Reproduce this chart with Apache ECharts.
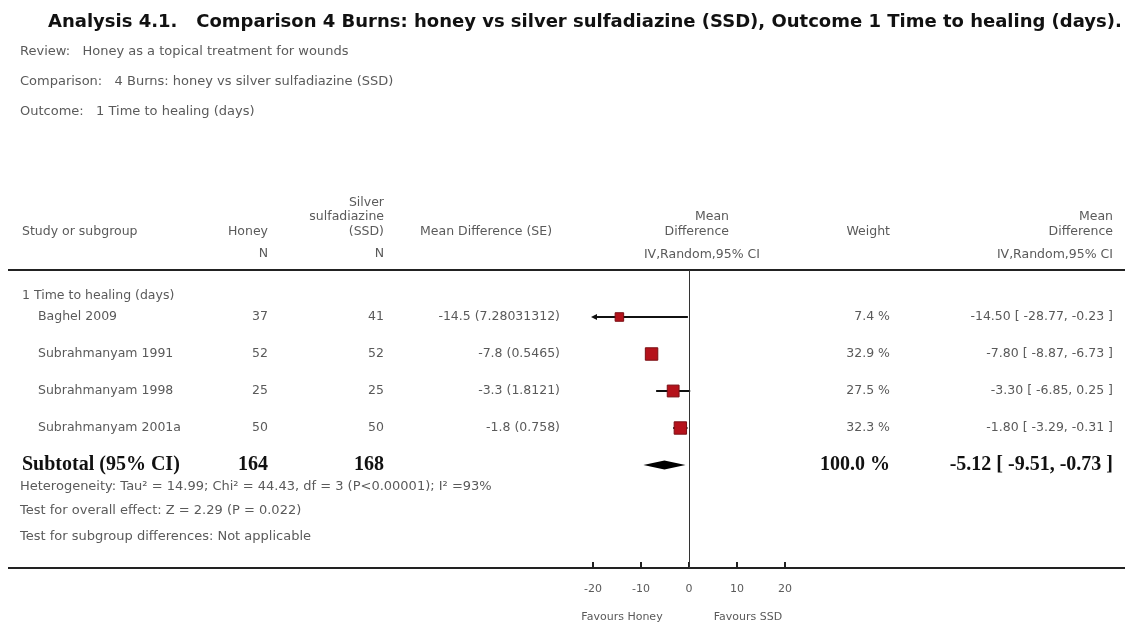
<!DOCTYPE html>
<html>
<head>
<meta charset="utf-8">
<script src="https://cdn.jsdelivr.net/npm/echarts@6/dist/echarts.min.js"></script>
<style>
  html, body { margin: 0; padding: 0; background: #fff; }
  #forest { width: 1125px; height: 623px; }
</style>
</head>
<body>
<div id="forest"></div>
<script>
// 数据
var studies = ['Baghel 2009', 'Subrahmanyam 1991', 'Subrahmanyam 1998', 'Subrahmanyam 2001a'];
var nHoney = [37, 52, 25, 50];
var nSSD = [41, 52, 25, 50];
var mdSE = ['-14.5 (7.28031312)', '-7.8 (0.5465)', '-3.3 (1.8121)', '-1.8 (0.758)'];
var md = [-14.5, -7.8, -3.3, -1.8];
var ciLow = [-28.77, -8.87, -6.85, -3.29];
var ciHigh = [-0.23, -6.73, 0.25, -0.31];
var weights = [7.4, 32.9, 27.5, 32.3];
var totalHoney = 164, totalSSD = 168;
var totalMD = -5.12, totalLow = -9.51, totalHigh = -0.73, totalWeight = 100.0;
var xTicks = [-20, -10, 0, 10, 20];

var font = '"DejaVu Sans"';
var gray = '#5a5a5a';
var fs = 12.5;

function fmt(v) { return v.toFixed(2); }

// 网格位置
var gridTop = 270, gridBottomY = 568, firstRowY = 317, rowGap = 37;
var yMin = -(firstRowY - gridTop) / rowGap;
var yMax = (gridBottomY - firstRowY) / rowGap;

var studyData = [];
for (var i = 0; i < studies.length; i++) {
  studyData.push([md[i], ciLow[i], ciHigh[i], i, weights[i]]);
}
var rowText = [];
for (var i = 0; i < studies.length; i++) {
  rowText.push([0, i, studies[i], String(nHoney[i]), String(nSSD[i]), mdSE[i],
    weights[i].toFixed(1) + ' %', fmt(md[i]) + ' [ ' + fmt(ciLow[i]) + ', ' + fmt(ciHigh[i]) + ' ]', 0]);
}
rowText.push([0, studies.length, 'Subtotal (95% CI)', String(totalHoney), String(totalSSD), '',
  totalWeight.toFixed(1) + ' %', fmt(totalMD) + ' [ ' + fmt(totalLow) + ', ' + fmt(totalHigh) + ' ]', 1]);

var myChart = echarts.init(document.getElementById('forest'));

function txt(x, y, text, opt) {
  opt = opt || {};
  return {
    type: 'text', x: x, y: y, silent: true,
    style: {
      text: text, fill: opt.fill || gray,
      font: (opt.weight || 'normal') + ' ' + (opt.size || fs) + 'px ' + (opt.family || font),
      textAlign: opt.align || 'left', textVerticalAlign: 'middle'
    }
  };
}

var graphics = [
  txt(48, 22, 'Analysis 4.1.   Comparison 4 Burns: honey vs silver sulfadiazine (SSD), Outcome 1 Time to healing (days).',
    { fill: '#111', weight: 'bold', size: 18 }),
  txt(20, 52, 'Review:   Honey as a topical treatment for wounds', { size: 13 }),
  txt(20, 82, 'Comparison:   4 Burns: honey vs silver sulfadiazine (SSD)', { size: 13 }),
  txt(20, 112, 'Outcome:   1 Time to healing (days)', { size: 13 }),
  // 表头
  txt(22, 232, 'Study or subgroup'),
  txt(268, 232, 'Honey', { align: 'right' }),
  txt(268, 254, 'N', { align: 'right' }),
  txt(384, 203, 'Silver', { align: 'right' }),
  txt(384, 217, 'sulfadiazine', { align: 'right' }),
  txt(384, 232, '(SSD)', { align: 'right' }),
  txt(384, 254, 'N', { align: 'right' }),
  txt(420, 232, 'Mean Difference (SE)'),
  txt(729, 217, 'Mean', { align: 'right' }),
  txt(729, 232, 'Difference', { align: 'right' }),
  txt(760, 255, 'IV,Random,95% CI', { align: 'right' }),
  txt(890, 232, 'Weight', { align: 'right' }),
  txt(1113, 217, 'Mean', { align: 'right' }),
  txt(1113, 232, 'Difference', { align: 'right' }),
  txt(1113, 255, 'IV,Random,95% CI', { align: 'right' }),
  { type: 'line', silent: true, shape: { x1: 8, y1: gridTop, x2: 1125, y2: gridTop },
    style: { stroke: '#222', lineWidth: 2 } },
  txt(22, 296, '1 Time to healing (days)'),
  // 底部说明
  txt(20, 487, 'Heterogeneity: Tau\u00b2 = 14.99; Chi\u00b2 = 44.43, df = 3 (P<0.00001); I\u00b2 =93%', { size: 13 }),
  txt(20, 511, 'Test for overall effect: Z = 2.29 (P = 0.022)', { size: 13 }),
  txt(20, 537, 'Test for subgroup differences: Not applicable', { size: 13 }),
  { type: 'line', silent: true, shape: { x1: 8, y1: gridBottomY, x2: 1125, y2: gridBottomY },
    style: { stroke: '#222', lineWidth: 2 } },
  txt(622, 617, 'Favours Honey', { align: 'center', size: 11 }),
  txt(748, 617, 'Favours SSD', { align: 'center', size: 11 })
];

var option = {
  animation: false,
  grid: { left: 593, right: 1125 - 785, top: gridTop, bottom: 623 - gridBottomY },
  xAxis: {
    type: 'value', min: -20, max: 20, interval: 10, position: 'bottom',
    axisLine: { show: false, onZero: false },
    axisTick: { show: true, inside: true, length: 6, lineStyle: { color: '#222', width: 2 } },
    axisLabel: { color: gray, fontSize: 11, fontFamily: 'DejaVu Sans', margin: 16,
      customValues: xTicks },
    splitLine: { show: false }
  },
  yAxis: { type: 'value', inverse: true, min: yMin, max: yMax, show: false },
  graphic: graphics,
  series: [
    {
      // 研究的置信区间和方块
      type: 'custom',
      data: studyData,
      clip: false,
      renderItem: function (params, api) {
        var m = api.value(0), lo = api.value(1), hi = api.value(2), row = api.value(3), w = api.value(4);
        var loC = Math.max(lo, -20), hiC = Math.min(hi, 20);
        var pLo = api.coord([loC, row]), pHi = api.coord([hiC, row]), pM = api.coord([m, row]);
        var size = 5 + Math.sqrt(w) * 1.3;
        var children = [
          { type: 'line', shape: { x1: pLo[0], y1: pLo[1], x2: pHi[0], y2: pHi[1] },
            style: { stroke: '#111', lineWidth: 2 } },
          { type: 'rect', shape: { x: pM[0] - size / 2, y: pM[1] - size / 2, width: size, height: size },
            style: { fill: '#b5121b', stroke: '#7a0f14', lineWidth: 1 } }
        ];
        if (lo < -20) {
          children.push({ type: 'polygon',
            shape: { points: [[pLo[0] - 2, pLo[1]], [pLo[0] + 4, pLo[1] - 3], [pLo[0] + 4, pLo[1] + 3]] },
            style: { fill: '#111' } });
        }
        return { type: 'group', children: children };
      },
      markLine: {
        silent: true, symbol: 'none', label: { show: false },
        lineStyle: { color: '#333', width: 1, type: 'solid' },
        data: [{ xAxis: 0 }]
      },
      z: 3
    },
    {
      // 合并效应菱形
      type: 'custom',
      data: [[totalMD, totalLow, totalHigh, studies.length]],
      renderItem: function (params, api) {
        var m = api.value(0), lo = api.value(1), hi = api.value(2), row = api.value(3);
        var a = api.coord([lo, row]), b = api.coord([hi, row]), c = api.coord([m, row]);
        return { type: 'polygon',
          shape: { points: [[a[0], a[1]], [c[0], c[1] - 4.5], [b[0], b[1]], [c[0], c[1] + 4.5]] },
          style: { fill: '#000' } };
      },
      z: 3
    },
    {
      // 表格文字
      type: 'custom',
      data: rowText,
      clip: false,
      renderItem: function (params, api) {
        var d = rowText[params.dataIndex];
        var y = api.coord([0, d[1]])[1];
        var bold = d[8] === 1;
        var f = bold ? 'bold 20px "Liberation Serif"' : fs + 'px ' + font;
        var col = bold ? '#111' : gray;
        function t(x, s, align) {
          return { type: 'text', style: { x: x, y: y, text: s, font: f, fill: col,
            textAlign: align, textVerticalAlign: 'middle' } };
        }
        return { type: 'group', children: [
          t(bold ? 22 : 38, d[2], 'left'),
          t(268, d[3], 'right'),
          t(384, d[4], 'right'),
          t(560, d[5], 'right'),
          t(890, d[6], 'right'),
          t(1113, d[7], 'right')
        ] };
      }
    }
  ]
};

myChart.setOption(option);
</script>
</body>
</html>
